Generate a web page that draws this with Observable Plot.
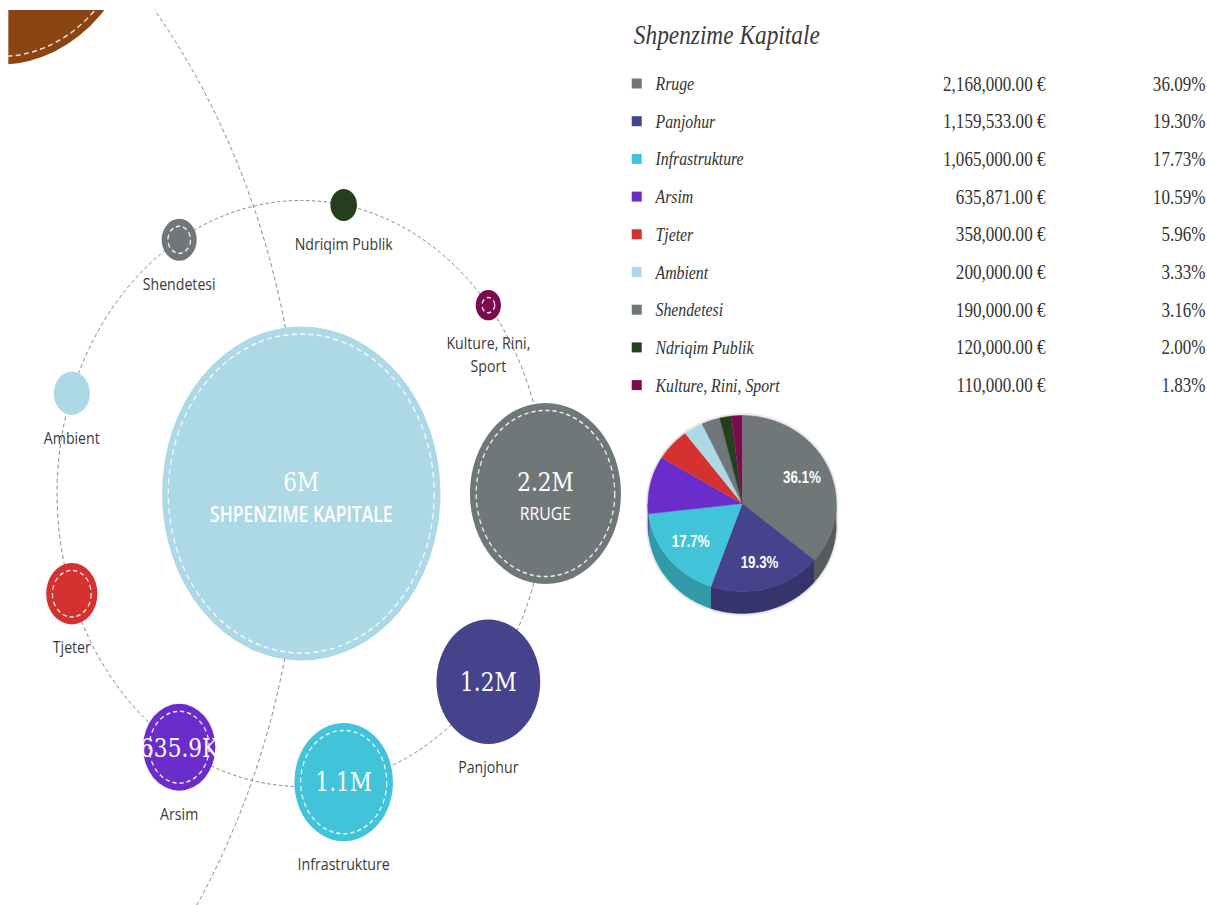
<!DOCTYPE html>
<html>
<head>
<meta charset="utf-8">
<script src="https://cdn.jsdelivr.net/npm/d3@7"></script>
<script src="https://cdn.jsdelivr.net/npm/@observablehq/plot@0.6"></script>
<style>
html, body { margin: 0; padding: 0; background: #fff; overflow: hidden; }
#wrap { position: absolute; left: 0; top: 0; width: 1448px; height: 905px; transform: scaleX(0.8334); transform-origin: 0 0; }
</style>
</head>
<body>
<div id="wrap"></div>
<script>
// ---- data ----
const title = "Shpenzime Kapitale";
const categories = ["Rruge", "Panjohur", "Infrastrukture", "Arsim", "Tjeter", "Ambient", "Shendetesi", "Ndriqim Publik", "Kulture, Rini, Sport"];
const values = [2168000, 1159533, 1065000, 635871, 358000, 200000, 190000, 120000, 110000];

// ---- styles ----
const palette = ["#6f7778", "#45438b", "#41c4d9", "#6a2dcb", "#d63131", "#add8e6", "#6f7778", "#253f1d", "#7b0b4f"];
const noRing = new Set(["Panjohur", "Ambient", "Ndriqim Publik"]);

const W = 1448, H = 905;
const total = d3.sum(values);
const items = d3.sort(categories.map((name, i) => ({name, value: values[i], pct: values[i] / total, i})), d => -d.value);

const rOpts = {type: "pow", exponent: 0.6, domain: [0, total], range: [0, 167]};
const rScale = Plot.scale({r: rOpts});
const rpx = v => rScale.apply(v);
const ringVal = v => rScale.invert(Math.max(1, rpx(v) - 7.5));

const fmtShort = v => v >= 1e6
  ? d3.format(".1f")(v / 1e6).replace(/\.0$/, "") + "M"
  : d3.format(".1f")(v / 1e3).replace(/\.0$/, "") + "K";
const fmtEuro = v => d3.format(",.2f")(v) + " €";
const fmtPct = d3.format(".2%");

// ---- bubble layout ----
const orbit = {x: 361, y: 493, r: 293};
const parentOrbit = {x: -390, y: 491, r: 750};
const parentNode = {x: 0, y: -106, r: 170};
const step = 2 * Math.PI / items.length;
items.forEach((d, k) => {
  const a = -k * step;
  d.x = orbit.x + orbit.r * Math.cos(a);
  d.y = orbit.y - orbit.r * Math.sin(a);
  d.rp = rpx(d.value);
});
const center = {x: orbit.x, y: orbit.y, value: total};
const top1 = items[0];
const others = items.slice(1);

// ---- legend layout ----
items.forEach((d, k) => { d.ly = 83.5 + k * 37.7; });

// ---- pie layout ----
const pie = {cx: 890, cy: 503, rx: 113, ry: 88, depth: 22};
let acc = 0;
const slices = items.map(d => {
  const a0 = acc / total * 2 * Math.PI; acc += d.value;
  const a1 = acc / total * 2 * Math.PI;
  return {...d, a0, a1};
});
const P = (a, dz = 0, k = 1, grow = 0) => ({
  x: pie.cx + (pie.rx * k + grow) * Math.sin(a),
  y: pie.cy - (pie.ry * k + grow) * Math.cos(a) + dz
});
const arcPts = (a0, a1, dz, grow = 0) => {
  const n = Math.max(2, Math.ceil((a1 - a0) / (Math.PI / 180)));
  return d3.range(n + 1).map(j => P(a0 + (a1 - a0) * j / n, dz, 1, grow));
};
const faces = slices.flatMap(s => [{x: pie.cx, y: pie.cy}, ...arcPts(s.a0, s.a1, 0)].map(p => ({...p, name: s.name, key: "f" + s.i})));
const sides = slices.flatMap(s => {
  const b0 = Math.max(s.a0, Math.PI / 2), b1 = Math.min(s.a1, 3 * Math.PI / 2);
  if (b1 <= b0) return [];
  return [...arcPts(b0, b1, 0), ...arcPts(b0, b1, pie.depth).reverse()].map(p => ({...p, name: s.name, key: "s" + s.i}));
});
const halo = [...arcPts(-Math.PI / 2, Math.PI / 2, 0, 2.5), ...arcPts(Math.PI / 2, 3 * Math.PI / 2, pie.depth, 2.5)].map(p => ({...p, key: "h"}));

const txtSans = {fontFamily: "'Open Sans', sans-serif"};
const valFont = {fontFamily: "'DejaVu Serif', serif", fontSize: 26};
const plot = Plot.plot({
  width: W, height: H,
  marginLeft: 10, marginTop: 10, marginRight: 0, marginBottom: 0,
  x: {domain: [10, W], range: [10, W], axis: null},
  y: {domain: [10, H], range: [10, H], axis: null},
  r: rOpts,
  color: {domain: categories, range: palette},
  style: {background: "#fff"},
  marks: [
    // parent orbit and parent node
    Plot.dot([parentOrbit], {x: "x", y: "y", r: parentOrbit.r, fill: "none", stroke: "#7a7a7a", strokeWidth: 1, strokeDasharray: "4,3", clip: true}),
    Plot.dot([parentNode], {x: "x", y: "y", r: parentNode.r, fill: "#8b4513", clip: true}),
    Plot.dot([parentNode], {x: "x", y: "y", r: parentNode.r - 8, fill: "none", stroke: "#fff", strokeOpacity: 0.85, strokeWidth: 1.5, strokeDasharray: "6,4", clip: true}),
    // category orbit
    Plot.dot([orbit], {x: "x", y: "y", r: orbit.r, fill: "none", stroke: "#7a7a7a", strokeWidth: 1, strokeDasharray: "4,3", clip: true}),
    // center node
    Plot.dot([center], {x: "x", y: "y", r: "value", fill: "#add8e6"}),
    Plot.dot([center], {x: "x", y: "y", r: d => ringVal(d.value), fill: "none", stroke: "#fff", strokeOpacity: 0.9, strokeWidth: 1.5, strokeDasharray: "6,4"}),
    Plot.text([center], {x: "x", y: "y", text: d => fmtShort(d.value), dy: -11, fill: "#fff", ...valFont}),
    Plot.text([center], {x: "x", y: "y", text: () => title.toUpperCase(), dy: 22, fill: "#fff", fontSize: 21, fontWeight: 600, ...txtSans}),
    // category bubbles
    Plot.dot(items, {x: "x", y: "y", r: "value", fill: "name"}),
    Plot.dot(items.filter(d => !noRing.has(d.name)), {x: "x", y: "y", r: d => ringVal(d.value), fill: "none", stroke: "#fff", strokeOpacity: 0.9, strokeWidth: 1.5, strokeDasharray: "5,3.5"}),
    Plot.text([top1], {x: "x", y: "y", text: d => fmtShort(d.value), dy: -11, fill: "#fff", ...valFont}),
    Plot.text([top1], {x: "x", y: "y", text: d => d.name.toUpperCase(), dy: 20, fill: "#fff", fontSize: 19, ...txtSans}),
    Plot.text(others.filter(d => d.rp > 35), {x: "x", y: "y", text: d => fmtShort(d.value), dy: 1, fill: "#fff", ...valFont}),
    Plot.text(others, {x: "x", y: d => d.y + d.rp + 13, text: "name", lineAnchor: "top", lineWidth: 8, lineHeight: 1.32, fill: "#3a3a3a", fontSize: 17, ...txtSans}),
    // title + legend table
    Plot.text([title], {x: 760, y: 35, text: d => d, textAnchor: "start", fill: "#3a3a3a", fontFamily: "'Liberation Serif', serif", fontStyle: "italic", fontSize: 28}),
    Plot.rect(items, {x1: 758, x2: 770, y1: d => d.ly - 5, y2: d => d.ly + 5, fill: "name"}),
    Plot.text(items, {x: 786, y: "ly", text: "name", textAnchor: "start", fill: "#333", fontFamily: "'Liberation Serif', serif", fontStyle: "italic", fontSize: 19}),
    Plot.text(items, {x: 1254, y: "ly", text: d => fmtEuro(d.value), textAnchor: "end", fill: "#333", fontFamily: "'Liberation Serif', serif", fontSize: 20.5}),
    Plot.text(items, {x: 1446, y: "ly", text: d => fmtPct(d.pct), textAnchor: "end", fill: "#333", fontFamily: "'Liberation Serif', serif", fontSize: 20.5}),
    // 3D pie
    Plot.line(halo, {x: "x", y: "y", z: "key", fill: "#000", fillOpacity: 0.08, stroke: "none"}),
    Plot.line(sides, {x: "x", y: "y", z: "key", fill: "name", stroke: "name", strokeWidth: 0.5}),
    Plot.line(sides, {x: "x", y: "y", z: "key", fill: "#000", fillOpacity: 0.22, stroke: "none"}),
    Plot.line(faces, {x: "x", y: "y", z: "key", fill: "name", stroke: "name", strokeWidth: 0.5}),
    Plot.text(slices.filter(s => s.pct > 0.12), {
      x: s => P((s.a0 + s.a1) / 2, 0, 0.7).x,
      y: s => P((s.a0 + s.a1) / 2, 0, 0.7).y,
      text: s => d3.format(".1%")(s.pct),
      fill: "#fff", fontFamily: "'Liberation Sans', Arial, sans-serif", fontWeight: "bold", fontSize: 16
    })
  ]
});
document.getElementById("wrap").append(plot);
</script>
</body>
</html>
